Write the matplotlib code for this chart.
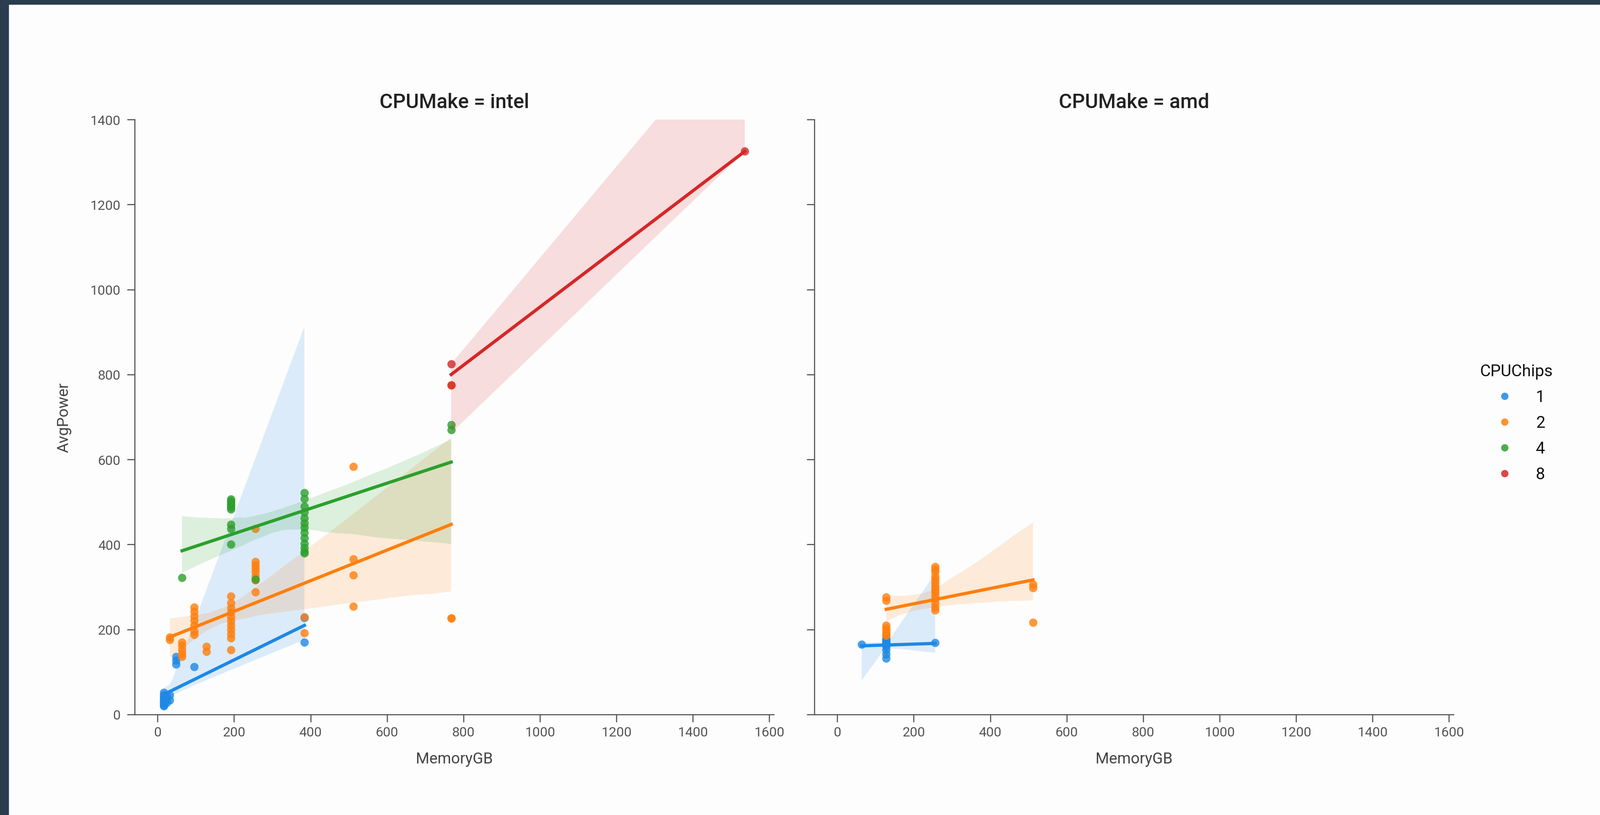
import numpy as np
import matplotlib
matplotlib.use("Agg")
import matplotlib.pyplot as plt
from matplotlib.lines import Line2D
from matplotlib.patches import Rectangle
import seaborn as sns

plt.rcParams['font.family'] = ['Roboto', 'DejaVu Sans']

# ---------------- data ----------------
chip_levels = [1, 2, 4, 8]
chip_colors = ['#1e88e5', '#ff7f0e', '#2ca02c', '#d62728']
panel_titles = ['CPUMake = intel', 'CPUMake = amd']
x_ticks = [0, 200, 400, 600, 800, 1000, 1200, 1400, 1600]
y_ticks = [0, 200, 400, 600, 800, 1000, 1200, 1400]

# intel, 1 chip
intel_c1_mem = [16, 16, 16, 16, 16, 16, 16, 16, 16, 16, 24, 24, 24, 32, 32,
                48, 48, 48, 96, 384, 384]
intel_c1_pow = [20, 22, 26, 28, 30, 34, 38, 42, 46, 52, 28, 36, 44, 34, 46,
                118, 127, 136, 112, 170, 228]
# intel, 2 chips
intel_c2_mem = [32, 32, 64, 64, 64, 64, 64, 96, 96, 96, 96, 96, 96, 96, 128, 128,
                192, 192, 192, 192, 192, 192, 192, 192, 192, 192, 192,
                256, 256, 256, 256, 256, 256, 256, 256, 384, 384,
                512, 512, 512, 512, 768, 768, 768]
intel_c2_pow = [182, 176, 170, 162, 152, 143, 136, 252, 242, 232, 222, 210, 196, 188, 160, 148,
                278, 262, 250, 240, 230, 220, 210, 200, 190, 180, 152,
                437, 360, 352, 344, 336, 326, 316, 288, 230, 192,
                583, 366, 328, 254, 227, 227, 775]
# intel, 4 chips
intel_c4_mem = [64, 192, 192, 192, 192, 192, 192, 192, 192, 192, 192, 256,
                384, 384, 384, 384, 384, 384, 384, 384, 384, 384, 384, 384, 384, 768, 768]
intel_c4_pow = [322, 507, 503, 499, 495, 491, 487, 483, 447, 437, 400, 318,
                522, 508, 490, 476, 462, 450, 440, 428, 415, 402, 392, 384, 380, 682, 670]
# intel, 8 chips
intel_c8_mem = [768, 768, 1536]
intel_c8_pow = [825, 775, 1325]

# amd, 1 chip
amd_c1_mem = [64, 128, 128, 128, 128, 128, 128, 128, 128, 128, 128, 128, 128, 256]
amd_c1_pow = [165, 180, 177, 174, 172, 170, 168, 166, 164, 160, 152, 142, 132, 169]
# amd, 2 chips
amd_c2_mem = [128, 128, 128, 128, 128, 128, 128, 128,
              256, 256, 256, 256, 256, 256, 256, 256, 256, 256, 256, 256, 256, 256,
              512, 512, 512]
amd_c2_pow = [276, 268, 210, 204, 198, 192, 188, 186,
              348, 342, 336, 325, 318, 310, 302, 295, 288, 280, 272, 262, 252, 245,
              306, 298, 217]

panels = [
    [(intel_c1_mem, intel_c1_pow), (intel_c2_mem, intel_c2_pow),
     (intel_c4_mem, intel_c4_pow), (intel_c8_mem, intel_c8_pow)],
    [(amd_c1_mem, amd_c1_pow), (amd_c2_mem, amd_c2_pow), None, None],
]
boot_seeds = [[2, 1, 1, 1], [1, 1, 1, 1]]

# ---------------- layout ----------------
W, H, DPI = 3790, 1931, 100
fig = plt.figure(figsize=(W / DPI, H / DPI), dpi=DPI, facecolor='#fdfdfd')

def px_axes(l, t, r, b, **kw):
    return fig.add_axes([l / W, 1 - b / H, (r - l) / W, (b - t) / H], **kw)

ax1 = px_axes(319, 284, 1833, 1693)
ax2 = px_axes(1929, 284, 3443, 1693, sharey=ax1)
axes = [ax1, ax2]

# screenshot border
border = '#293d4f'
fig.patches.append(Rectangle((0, 1 - 11 / H), 1, 11 / H, transform=fig.transFigure,
                             color=border, zorder=0))
fig.patches.append(Rectangle((0, 0), 20 / W, 1, transform=fig.transFigure,
                             color=border, zorder=0))

spine_c = '#555555'
for i, ax in enumerate(axes):
    ax.set_facecolor('none')
    for data, col, sd in zip(panels[i], chip_colors, boot_seeds[i]):
        if data is None:
            continue
        mem, pw = data
        sns.regplot(x=np.array(mem, float), y=np.array(pw, float), ax=ax, color=col,
                    ci=95, n_boot=1000, seed=sd, truncate=True,
                    scatter_kws={'s': 200, 'alpha': 0.8, 'linewidths': 0},
                    line_kws={'lw': 5.5})
    ax.set_xlim(-60, 1612)
    ax.set_ylim(0, 1400)
    ax.set_xticks(x_ticks)
    ax.set_yticks(y_ticks)
    for s in ['top', 'right']:
        ax.spines[s].set_visible(False)
    for s in ['left', 'bottom']:
        ax.spines[s].set_color(spine_c)
        ax.spines[s].set_linewidth(1.9)
    ax.tick_params(axis='both', length=13, width=1.9, color=spine_c,
                   labelsize=23, labelcolor='#555555')
    ax.tick_params(axis='x', pad=7)
    ax.tick_params(axis='y', pad=11)
    ax.set_xlabel('MemoryGB', fontsize=26.5, color='#444444', labelpad=22)
    ax.set_ylabel('')
    ax.set_title(panel_titles[i], fontsize=34.5, color='#222222', pad=20,
                 fontweight='medium')

ax1.set_ylabel('AvgPower', fontsize=26.5, color='#444444', labelpad=32)
ax2.tick_params(axis='y', labelleft=False)

handles = [Line2D([], [], ls='', marker='o', ms=12.5, mew=0, color=c, alpha=0.85)
           for c in chip_colors]
leg = fig.legend(handles, [str(c) for c in chip_levels], title='CPUChips',
                 loc='upper left', bbox_to_anchor=(3506 / W, 1 - 862 / H),
                 frameon=False, fontsize=28, title_fontsize=28,
                 handlelength=2, handletextpad=0.9, labelspacing=0.62,
                 borderpad=0, borderaxespad=0)
for t in leg.get_texts():
    t.set_color('#111111')
leg.get_title().set_color('#111111')

fig.savefig('out.png', dpi=DPI, facecolor=fig.get_facecolor())
